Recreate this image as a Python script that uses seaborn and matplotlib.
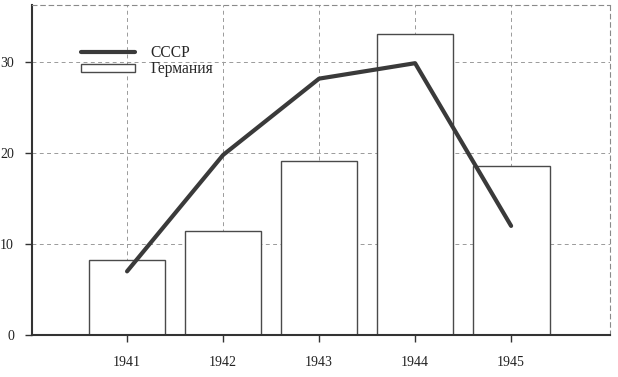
import numpy as np
import pandas as pd
import matplotlib
matplotlib.use("Agg")
import matplotlib.pyplot as plt
import seaborn as sns

years = ["1941", "1942", "1943", "1944", "1945"]
germany = [8.2, 11.4, 19.1, 33.1, 18.6]
ussr = [7.0, 19.8, 28.2, 29.9, 12.0]

sns.set_style("white")
plt.rcParams["font.family"] = ["Liberation Serif", "DejaVu Serif"]

fig = plt.figure(figsize=(6.18, 3.77), dpi=100)
ax = fig.add_axes([32 / 618, 42 / 377, 578 / 618, 330 / 377])

df = pd.DataFrame({"year": years, "germany": germany, "ussr": ussr})
sns.barplot(data=df, x="year", y="germany", color="white", edgecolor="#4a4a4a",
            linewidth=1.0, width=0.8, saturation=1, ax=ax, label="Германия", zorder=2)
sns.lineplot(x=np.arange(len(years)), y=ussr, color="#3a3a3a", linewidth=3.0,
             ax=ax, label="СССР", zorder=3)

ax.set_xlim(-0.99, 5.03)
ax.set_ylim(0, 36.3)
ax.set_yticks([0, 10, 20, 30])
ax.set_xticks(range(len(years)))
ax.set_xticklabels(years)
ax.set_xlabel("")
ax.set_ylabel("")

ax.grid(True, linestyle=(0, (4, 3.5)), color="#9a9a9a", linewidth=0.7, zorder=0)
ax.set_axisbelow(True)

for s in ["top", "right"]:
    ax.spines[s].set_linestyle((0, (4, 3.5)))
    ax.spines[s].set_color("#8a8a8a")
    ax.spines[s].set_linewidth(0.8)
for s in ["left", "bottom"]:
    ax.spines[s].set_color("#333333")
    ax.spines[s].set_linewidth(1.5)

ax.tick_params(axis="both", direction="out", length=5, width=1, color="#333333",
               labelsize=10, labelcolor="#222222", left=True, bottom=True)
ax.tick_params(axis="x", pad=10)
ax.tick_params(axis="y", pad=8)

h, l = ax.get_legend_handles_labels()
order = [l.index("СССР"), l.index("Германия")]
leg = ax.legend([h[i] for i in order], [l[i] for i in order], loc="upper left",
                bbox_to_anchor=(0.06, 0.921), frameon=False, fontsize=11.2,
                handlelength=3.5, handleheight=0.45, labelspacing=0.02, handletextpad=1.0)

fig.savefig("out.png", dpi=100)
